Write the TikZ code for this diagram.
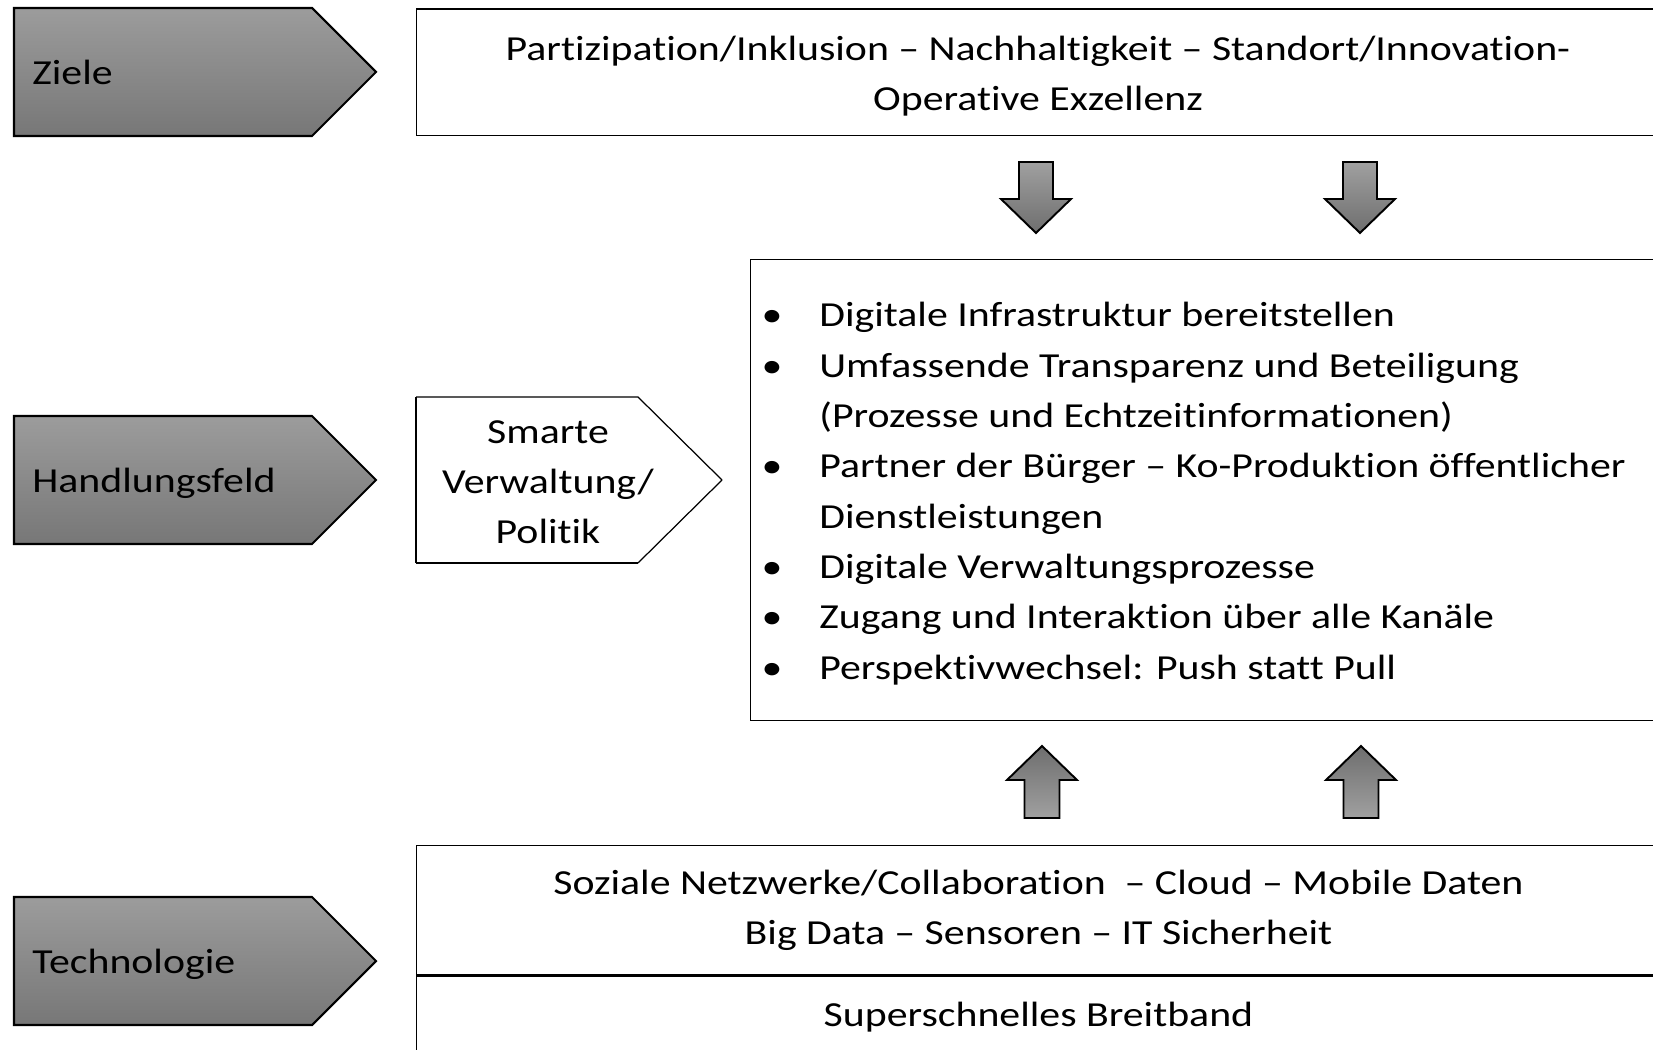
\documentclass[tikz,border=0pt]{standalone}
\usepackage{fontspec}
\setmainfont{Carlito}[FakeStretch=1.19,Ligatures={NoCommon}]
\usepackage{tikz}
\usepackage{xcolor}

\begin{document}
\begin{tikzpicture}[x=0.02cm,y=-0.02cm,
  txt/.style={font=\fontsize{20}{28.4}\selectfont,inner sep=0pt},
  kasten/.style={draw,line width=0.7pt,fill=white,anchor=north west,inner sep=0pt,align=center},
  ebene/.style={draw,line width=1.2pt,top color=ebeneoben,bottom color=ebeneunten},
  runter/.style={draw,line width=1.1pt,top color=pfeilhell,bottom color=pfeildunkel},
  hoch/.style={draw,line width=1.1pt,top color=pfeildunkel,bottom color=pfeilhell}]
\definecolor{ebeneoben}{HTML}{9C9C9C}
\definecolor{ebeneunten}{HTML}{777777}
\definecolor{pfeilhell}{HTML}{A0A0A0}
\definecolor{pfeildunkel}{HTML}{6E6E6E}
\useasboundingbox (0,0) rectangle (1653,1050);
\clip (0,0) rectangle (1653,1050);
% Ebenen links
  \foreach \nm/\lbl/\oben in {ziele/Ziele/8,handlung/Handlungsfeld/416,technik/Technologie/897}
  { \draw [ebene] (14,\oben) -- (312,\oben) -- (376,\oben+64) -- (312,\oben+128) -- (14,\oben+128) -- cycle;
    \node [txt,anchor=base west] (\nm) at (32,\oben+76.5) {\lbl};}
% Ziele
\node [kasten,minimum width=24.88cm,minimum height=2.53cm] (zielbox) at (416,8.5) {};
\node [txt,align=center] (zieltext) at (1038,76)
  {Partizipation/Inklusion -- Nachhaltigkeit -- Standort/Innovation-\\Operative Exzellenz};
% Handlungsfeld
\draw [line width=0.7pt] (416,397) -- (638,397) -- (722,480);
\draw [line width=0.7pt] (722,480) -- (638,563);
\draw [line width=1.4pt] (638,563) -- (416,563);
\draw [line width=0.7pt] (416,563) -- (416,397);
\node [txt,align=center] (smarte) at (548,482) {Smarte\\Verwaltung/\\Politik};
\node [kasten,minimum width=18.2cm,minimum height=9.22cm] (massnahmen) at (750,259) {};
  \foreach \i/\pkt/\zeile/\bl in {1/1/Digitale Infrastruktur bereitstellen/327,
    2/1/Umfassende Transparenz und Beteiligung/377.3,
    3/0/(Prozesse und Echtzeitinformationen)/427.6,
    4/1/Partner der Bürger -- Ko-Produktion öffentlicher/477.9,
    5/0/Dienstleistungen/528.2,
    6/1/Digitale Verwaltungsprozesse/578.5,
    7/1/Zugang und Interaktion über alle Kanäle/628.8,
    8/1/Perspektivwechsel: Push statt Pull/679.1}
  { \node [txt,anchor=base west] (zeile\i) at (819,\bl) {\zeile};
    \ifnum\pkt=1 \node [txt,anchor=base] (punkt\i) at (772,\bl) {\textbullet};\fi}
% Technologie
\node [kasten,txt,minimum width=24.88cm,minimum height=2.58cm] (techbox) at (416,845)
  {Soziale Netzwerke/Collaboration\ \ -- Cloud -- Mobile Daten\\Big Data -- Sensoren -- IT Sicherheit};
\node [kasten,txt,minimum width=24.88cm,minimum height=1.7cm] (breitband) at (416,974) {Superschnelles Breitband};
\draw [line width=1.6pt] (techbox.south west) -- (techbox.south east);
% Pfeile
  \foreach \m in {1036,1360}
  { \draw [runter] (\m-17,162) -- (\m+17,162) -- (\m+17,199) -- (\m+35,199) -- (\m,233) -- (\m-35,199) -- (\m-17,199) -- cycle;}
  \foreach \m in {1042,1361}
  { \draw [hoch] (\m,746) -- (\m+35,780) -- (\m+17.5,780) -- (\m+17.5,818) -- (\m-17.5,818) -- (\m-17.5,780) -- (\m-35,780) -- cycle;}
\end{tikzpicture}
\end{document}
